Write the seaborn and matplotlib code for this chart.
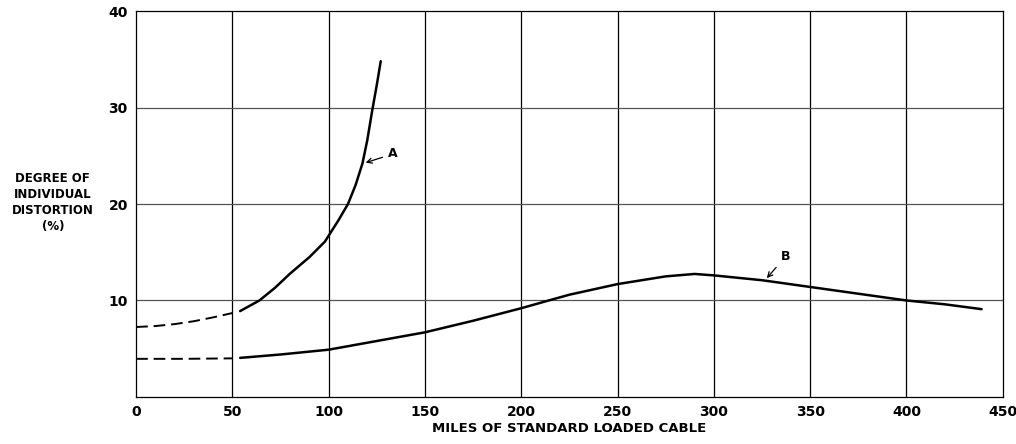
import matplotlib
matplotlib.use("Agg")
import matplotlib.pyplot as plt
import seaborn as sns
import pandas as pd

###############
# data
###############
a_dash_x = [0, 10, 20, 30, 40, 50]
a_dash_y = [7.25, 7.35, 7.55, 7.85, 8.25, 8.7]
a_x = [54, 64, 72, 80, 90, 98, 101.5, 105, 110, 114, 117.5, 120, 122.5, 125, 127]
a_y = [8.9, 10.0, 11.3, 12.8, 14.5, 16.1, 17.2, 18.3, 20.0, 22.0, 24.2, 26.6, 29.6, 32.4, 34.8]

b_dash_x = [0, 25, 50]
b_dash_y = [3.95, 3.95, 4.0]
b_x = [54, 75, 100, 125, 150, 175, 200, 216, 225, 250, 275, 290, 300, 325, 350, 375, 400, 420, 439]
b_y = [4.05, 4.4, 4.9, 5.8, 6.7, 7.9, 9.2, 10.1, 10.6, 11.7, 12.5, 12.75, 12.6, 12.1, 11.4, 10.7, 10.0, 9.6, 9.1]

x_ticks = [0, 50, 100, 150, 200, 250, 300, 350, 400, 450]
y_ticks = [10, 20, 30, 40]

sns.set_style("white")
plt.rcParams['font.family'] = ['DejaVu Sans']
plt.rcParams['text.color'] = 'black'
plt.rcParams['xtick.color'] = 'black'
plt.rcParams['ytick.color'] = 'black'
plt.rcParams['axes.labelcolor'] = 'black'

fig = plt.figure(figsize=(10.16, 4.44), dpi=100)
ax = fig.add_axes([0.134, 0.106, 0.853, 0.869])

# grid first so the curves sit on top
for xv in x_ticks[1:-1]:
    ax.axvline(xv, color='black', lw=0.9, zorder=1)
for yv in y_ticks[:-1]:
    ax.axhline(yv, color='#555555', lw=0.9, zorder=1)

df_a = pd.DataFrame({'x': a_x, 'y': a_y})
df_ad = pd.DataFrame({'x': a_dash_x, 'y': a_dash_y})
df_b = pd.DataFrame({'x': b_x, 'y': b_y})
df_bd = pd.DataFrame({'x': b_dash_x, 'y': b_dash_y})

sns.lineplot(data=df_a, x='x', y='y', color='black', lw=1.8, ax=ax, zorder=3, sort=False)
sns.lineplot(data=df_b, x='x', y='y', color='black', lw=1.8, ax=ax, zorder=3, sort=False)
sns.lineplot(data=df_ad, x='x', y='y', color='black', lw=1.4, ax=ax, zorder=3,
             linestyle=(0, (6, 3)), sort=False)
sns.lineplot(data=df_bd, x='x', y='y', color='black', lw=1.4, ax=ax, zorder=3,
             linestyle=(0, (6, 3)), sort=False)

ax.annotate('A', xy=(117.8, 24.2), xytext=(131, 25.2), fontsize=9, fontweight='bold',
            va='center', arrowprops=dict(arrowstyle='->', color='black', lw=0.9))
ax.annotate('B', xy=(326.5, 12.1), xytext=(335, 14.6), fontsize=9, fontweight='bold',
            va='center', arrowprops=dict(arrowstyle='->', color='black', lw=0.9))

ax.set_xlim(0, 450)
ax.set_ylim(0, 40)
ax.set_xticks(x_ticks)
ax.set_xticklabels([str(v) for v in x_ticks], fontsize=10, fontweight='bold')
ax.set_yticks(y_ticks)
ax.set_yticklabels([str(v) for v in y_ticks], fontsize=10, fontweight='bold')
ax.tick_params(length=0, pad=6)
for s in ax.spines.values():
    s.set_color('black')
    s.set_linewidth(0.9)

ax.set_xlabel('MILES OF STANDARD LOADED CABLE', fontsize=9.5, fontweight='bold', labelpad=2)
ax.set_ylabel('')
fig.text(0.052, 0.545, 'DEGREE OF\nINDIVIDUAL\nDISTORTION\n(%)', ha='center', va='center',
         fontsize=8.5, fontweight='bold', linespacing=1.3)

fig.savefig('out.png', dpi=100)
